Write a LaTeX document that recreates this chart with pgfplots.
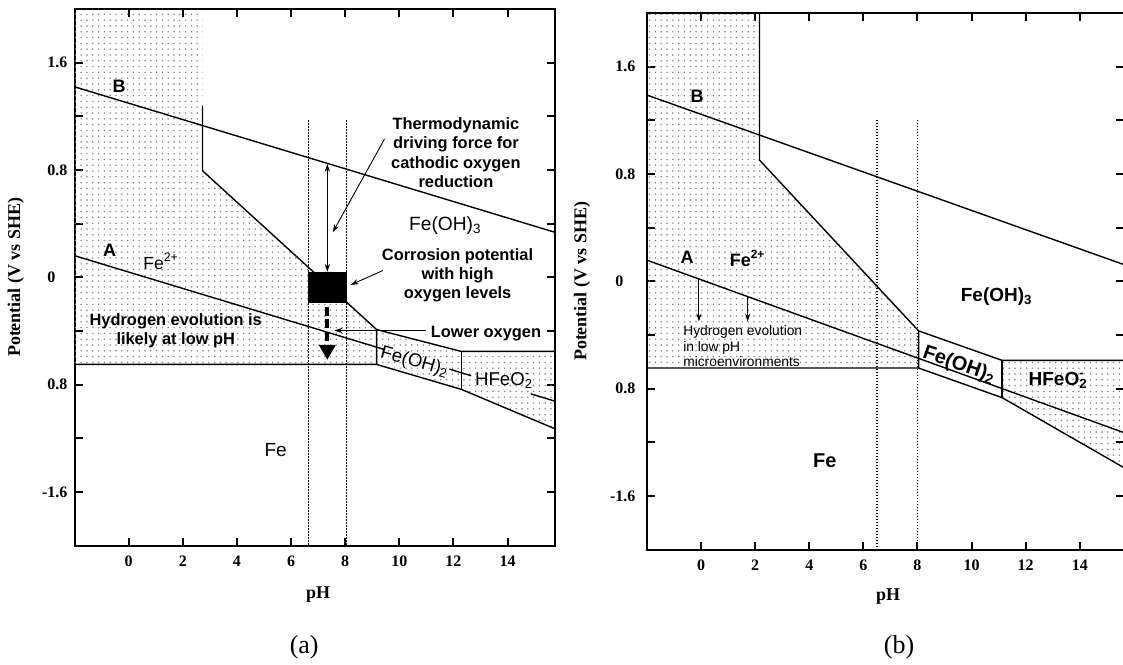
\documentclass[border=0pt]{standalone}
\usepackage{fontspec}
\setmainfont{Liberation Serif}
\newfontfamily\arial{Liberation Sans}
\usepackage{pgfplots}
\pgfplotsset{compat=1.18}
\usetikzlibrary{patterns.meta,arrows.meta}

\newcommand{\bsf}[1]{\arial\bfseries\fontsize{#1}{#1}\selectfont}
\newcommand{\rsf}[1]{\arial\fontsize{#1}{#1}\selectfont}
\newcommand{\bsfl}[2]{\arial\bfseries\fontsize{#1}{#2}\selectfont}
\newcommand{\rsfl}[2]{\arial\fontsize{#1}{#2}\selectfont}

\tikzset{
  stip/.style={draw=none, pattern={Dots[distance=2.9pt,radius=0.42pt]}, pattern color=black!50},
  bd/.style={black, line width=0.7pt},
  dotl/.style={black, line width=0.7pt, dash pattern=on 0.6pt off 0.9pt},
  ah/.style={-{Stealth[length=4pt,width=2.6pt]}, line width=0.45pt, black},
}

\pgfplotsset{pourbaix/.style={
  scale only axis, height=268.25pt, ymin=-2, ymax=2, xmin=-2,
  axis line style={line width=1pt},
  every tick/.style={line width=1pt, black},
  major tick length=4pt, minor tick length=4pt, tick align=inside,
  xtick pos=both, ytick pos=both,
  xtick={0,2,4,6,8,10,12,14}, xticklabels={0,2,4,6,8,10,12,14},
  ytick={-1.6,-0.8,0,0.8,1.6}, yticklabels={\llap{-}1.6,0.8,0,0.8,1.6},
  minor ytick={-1.2,-0.4,0.4,1.2},
  ticklabel style={font=\fontsize{8}{9}\selectfont\bfseries},
  xticklabel style={yshift=-1.6pt},
  yticklabel style={anchor=west, inner sep=0pt},
  xlabel={pH}, ylabel={Potential (V vs SHE)},
  label style={font=\fontsize{9}{10}\selectfont\bfseries},
  clip mode=individual,
  every axis plot/.append style={mark=none},
}}

\begin{document}
\begin{tikzpicture}
\useasboundingbox (0,0) rectangle (561.5pt,332pt);
\clip (0,0) rectangle (561.5pt,332pt);

% ---------------- panel (a) ----------------
\begin{axis}[pourbaix, at={(37.25pt,59.25pt)}, anchor=south west, width=240.25pt, xmax=15.75,
  yticklabel style={xshift=-13.75pt},
  ylabel style={at={(axis description cs:-0.122,0.5)}, anchor=center},
  xlabel style={at={(axis description cs:0.507,-0.092)}, anchor=center}]
\addplot[stip] coordinates {(-2,2) (2.73,2) (2.73,0.794) (9.16,-0.39) (9.16,-0.65) (-2,-0.65)} -- cycle;
\addplot[stip] coordinates {(9.16,-0.39) (12.29,-0.553) (12.29,-0.836) (9.16,-0.65)} -- cycle;
\addplot[stip] coordinates {(12.29,-0.553) (15.75,-0.553) (15.75,-1.13) (12.29,-0.836)} -- cycle;
% boundaries
\addplot[bd] coordinates {(2.73,1.28) (2.73,0.794) (9.16,-0.39) (9.16,-0.65)};
\addplot[bd] coordinates {(-2,-0.65) (9.16,-0.65) (12.29,-0.836) (15.75,-1.13)};
\addplot[bd] coordinates {(9.16,-0.39) (12.29,-0.553) (15.75,-0.553)};
\addplot[bd] coordinates {(12.29,-0.553) (12.29,-0.836)};
% line B
\addplot[bd] coordinates {(-2,1.42) (15.75,0.335)};
% line A (broken by labels)
\addplot[bd] coordinates {(-2,0.161) (9.45,-0.539)};
\addplot[bd] coordinates {(11.85,-0.685) (12.65,-0.734)};
\addplot[bd] coordinates {(14.85,-0.869) (15.75,-0.924)};
% pH range
\addplot[dotl] coordinates {(6.64,1.17) (6.64,-2)};
\addplot[dotl] coordinates {(8.05,1.17) (8.05,-2)};
% corrosion potential box
\addplot[fill=black, draw=black] coordinates {(6.64,-0.186) (8.05,-0.186) (8.05,0.037) (6.64,0.037)} -- cycle;
% arrows
\addplot[{Stealth[length=4pt,width=2.6pt]}-{Stealth[length=4pt,width=2.6pt]}, line width=0.45pt] coordinates {(7.34,0.04) (7.34,0.846)};
\addplot[ah] coordinates {(9.45,1.03) (7.54,0.335)};
\addplot[ah] coordinates {(9.39,0.05) (8.2,-0.057)};
\addplot[ah] coordinates {(10.97,-0.397) (7.6,-0.397)};
\addplot[line width=2pt, dash pattern=on 4.5pt off 1.8pt, -{Triangle[length=7.5pt,width=8pt]}] coordinates {(7.34,-0.22) (7.34,-0.616)};
% labels
\node[font=\bsf{9}] at (axis cs:-0.35,1.42) {B};
\node[font=\bsf{9}] at (axis cs:-0.7,0.2) {A};
\node[font=\rsf{8.8}] at (axis cs:1.2,0.12) {Fe\textsuperscript{2+}};
\node[font=\rsf{9.6}] at (axis cs:11.7,0.385) {Fe(OH)\textsubscript{3}};
\node[font=\bsfl{8.2}{9.65}, align=center] at (axis cs:12.09,0.93) {Thermodynamic\\driving force for\\cathodic oxygen\\reduction};
\node[font=\bsfl{8.2}{9.7}, align=center] at (axis cs:12.15,0.015) {Corrosion potential\\with high\\oxygen levels};
\node[font=\bsfl{8.2}{9.4}, align=center] at (axis cs:1.74,-0.40) {Hydrogen evolution is\\likely at low pH};
\node[font=\bsf{8.2}] at (axis cs:13.2,-0.417) {Lower oxygen};
\node[font=\rsf{9.3}, rotate=-16] at (axis cs:10.57,-0.633) {Fe(OH)\textsubscript{2}};
\node[font=\rsf{9.3}] at (axis cs:13.87,-0.77) {HFeO\rlap{\textsuperscript{-}}\textsubscript{2}};
\node[font=\rsf{9.5}] at (axis cs:5.43,-1.29) {Fe};
\node[font=\fontsize{13}{14}\selectfont] at (axis description cs:0.478,-0.189) {(a)};
\end{axis}

% ---------------- panel (b) ----------------
\begin{axis}[pourbaix, at={(323.5pt,57.25pt)}, anchor=south west, width=238.7pt, xmax=15.65,
  yticklabel style={xshift=-16pt},
  ylabel style={at={(axis description cs:-0.136,0.5)}, anchor=center},
  xlabel style={at={(axis description cs:0.505,-0.0885)}, anchor=center}]
\addplot[stip] coordinates {(-2,2) (2.16,2) (2.16,0.903) (8.04,-0.37) (8.04,-0.647) (-2,-0.647)} -- cycle;
\addplot[stip] coordinates {(11.13,-0.59) (15.65,-0.59) (15.65,-1.392) (11.13,-0.868)} -- cycle;
\addplot[bd] coordinates {(2.16,2) (2.16,0.903) (8.04,-0.37) (8.04,-0.647)};
\addplot[bd] coordinates {(-2,-0.647) (8.04,-0.647) (11.13,-0.868) (15.65,-1.392)};
\addplot[bd] coordinates {(8.04,-0.37) (11.13,-0.59) (15.65,-0.59)};
\addplot[bd] coordinates {(11.13,-0.59) (11.13,-0.868)};
\addplot[bd] coordinates {(-2,1.388) (15.65,0.123)};
\addplot[bd] coordinates {(-2,0.157) (15.65,-1.13)};
\addplot[dotl] coordinates {(6.5,1.2) (6.5,-2)};
\addplot[dotl] coordinates {(8.0,1.2) (8.0,-2)};
\addplot[ah] coordinates {(-0.08,0.016) (-0.08,-0.30)};
\addplot[ah] coordinates {(1.72,-0.114) (1.72,-0.30)};
\node[font=\bsf{9}] at (axis cs:-0.15,1.38) {B};
\node[font=\bsf{9}] at (axis cs:-0.52,0.18) {A};
\node[font=\bsf{9}] at (axis cs:1.72,0.17) {Fe\textsuperscript{2+}};
\node[font=\bsf{9.5}] at (axis cs:10.93,-0.117) {Fe(OH)\textsubscript{3}};
\node[font=\bsf{10}, rotate=-19] at (axis cs:9.54,-0.627) {Fe(OH)\textsubscript{2}};
\node[font=\bsf{9.5}] at (axis cs:13.2,-0.74) {HFeO\rlap{\textsuperscript{-}}\textsubscript{2}};
\node[font=\bsf{10}] at (axis cs:4.57,-1.34) {Fe};
\node[font=\rsfl{6.9}{7.7}, align=left, anchor=west] at (axis cs:-0.92,-0.485) {Hydrogen evolution\\in low pH\\microenvironments};
\node[font=\fontsize{13}{14}\selectfont] at (axis description cs:0.528,-0.182) {(b)};
\end{axis}
\end{tikzpicture}
\end{document}
